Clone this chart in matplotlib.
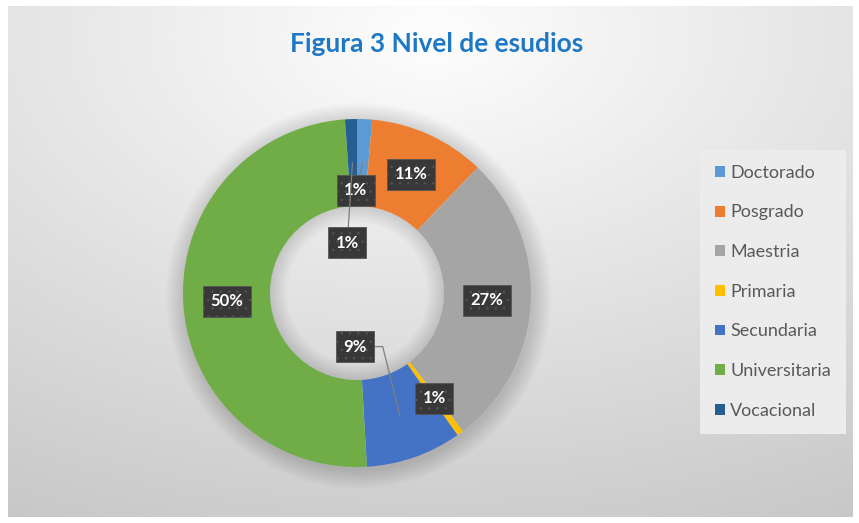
import numpy as np
import matplotlib
matplotlib.use("Agg")
import matplotlib.pyplot as plt
from matplotlib.patches import Wedge

# data
categories = ["Doctorado", "Posgrado", "Maestria", "Primaria",
              "Secundaria", "Universitaria", "Vocacional"]
percent = [1.4, 10.8, 27.4, 0.6, 8.9, 49.8, 1.1]
colors = ["#5B9BD5", "#ED7D31", "#A5A5A5", "#FFC000",
          "#4472C4", "#70AD47", "#255E91"]

# label boxes that Excel moved away from the slice (offset in data units)
moved = {"Doctorado": (-0.04, -0.16),
         "Secundaria": (-0.26, 0.40),
         "Vocacional": (-0.03, -0.46)}

plt.rcParams["font.family"] = ["Lato", "DejaVu Sans"]
plt.rcParams["hatch.linewidth"] = 0.5

W, H = 859, 523
fig = plt.figure(figsize=(W / 100, H / 100), dpi=100)
fig.patch.set_facecolor("white")

# gray radial background inside a thin white frame
bg = fig.add_axes([8 / W, 6 / H, 844 / W, 511 / H], zorder=-10)
yy, xx = np.mgrid[0:511, 0:844]
d = np.sqrt(((xx - 422) / 844.0) ** 2 + ((yy - 30) / 511.0) ** 2)
val = np.clip(0.995 - 0.2 * d, 0, 1)
bg.imshow(np.dstack([val, val, val]), aspect="auto", interpolation="bilinear")
bg.axis("off")

fig.text(437 / W, 1 - 44 / H, "Figura 3 Nivel de esudios", ha="center", va="center",
         fontsize=19, fontweight="bold", color="#1F78C4")

# donut axes: centre at (357, 293) px, outer radius 174 px
r_px = 174
side = 1.2 * r_px
cx, cy = 357, 293
ax = fig.add_axes([(cx - side) / W, (H - cy - side) / H, 2 * side / W, 2 * side / H])

wedges, _ = ax.pie(percent, colors=colors, startangle=90, counterclock=False,
                   radius=1.0, wedgeprops=dict(width=0.5, edgecolor="none"),
                   frame=False)
ax.set_xlim(-1.2, 1.2)
ax.set_ylim(-1.2, 1.2)
ax.axis("off")
for w in wedges:
    w.set_zorder(2)

# soft shadow around the outside of the ring
for i in range(12):
    ax.add_patch(Wedge((0.01, -0.015), 1.0 + 0.009 * (i + 1), 0, 360, width=0.06 + 0.009 * i,
                       fc="black", alpha=0.013, ec="none", zorder=1))
# shade along the rim of the hole
for i in range(8):
    ax.add_patch(Wedge((0, 0), 0.5, 0, 360, width=0.012 * (i + 1), fc="black",
                       alpha=0.015, ec="none", zorder=3))

for w, cat, p in zip(wedges, categories, percent):
    ang = np.deg2rad((w.theta1 + w.theta2) / 2)
    mx, my = 0.75 * np.cos(ang), 0.75 * np.sin(ang)
    label = "%.0f%%" % p
    box = dict(boxstyle="square,pad=0.45", fc="#383838", ec="#555555",
               hatch="..", lw=0.6)
    if cat in moved:
        dx, dy = moved[cat]
        style = "angle,angleA=0,angleB=104,rad=0" if cat == "Secundaria" else "arc3"
        ax.annotate(label, xy=(mx, my), xytext=(mx + dx, my + dy),
                    ha="center", va="center", fontsize=12, fontweight="bold",
                    color="white", bbox=box, zorder=6,
                    arrowprops=dict(arrowstyle="-", color="#7f7f7f", lw=0.9,
                                    connectionstyle=style, shrinkA=0, shrinkB=0))
    else:
        ax.text(mx, my, label, ha="center", va="center", fontsize=12,
                fontweight="bold", color="white", bbox=box, zorder=6)

fig.legend(wedges, categories, loc="upper left",
           bbox_to_anchor=(700 / W, 1 - 150 / H), borderaxespad=0, fontsize=13,
           frameon=True, fancybox=False, facecolor="#ececec",
           edgecolor="none", framealpha=1, labelspacing=1.31,
           handlelength=0.55, handleheight=0.55, handletextpad=0.3,
           borderpad=0.82, labelcolor="#595959")

fig.savefig("out.png", dpi=100)
